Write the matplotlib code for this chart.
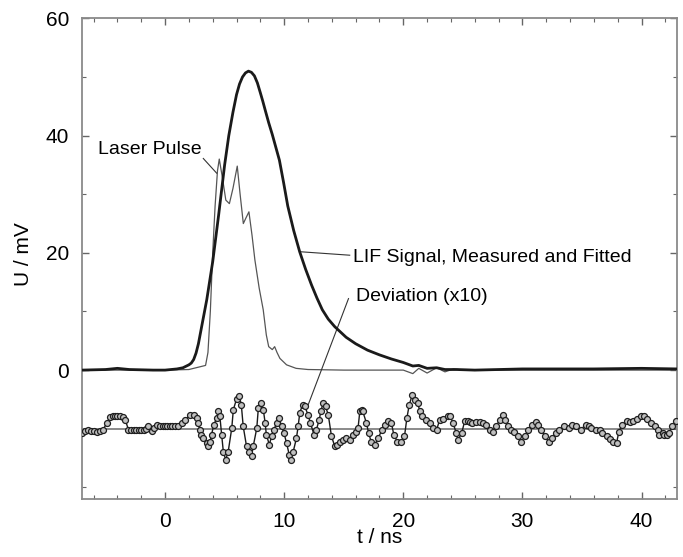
#!/usr/bin/env python3
"""LIF signal, laser pulse and fit deviation versus time."""

import matplotlib

matplotlib.use("Agg")
import matplotlib.pyplot as plt
from matplotlib.ticker import FixedLocator

plt.rcParams["font.family"] = ["Liberation Sans", "DejaVu Sans"]

# LIF signal (measured and fitted overlap), t in ns, U in mV
lif_t = [-7.0, -5.0, -4.0, -3.0, -1.0, 0.0, 1.0, 1.5, 2.0, 2.2, 2.4, 2.6,
         2.8, 3.07, 3.5, 4.0, 4.5, 5.0, 5.35, 5.7, 6.0, 6.25, 6.5, 6.75, 7.0,
         7.25, 7.5, 7.75, 8.0, 8.2, 8.4, 8.7, 9.0, 9.3, 9.6, 9.95, 10.3, 10.8,
         11.3, 11.8, 12.3, 12.75, 13.2, 13.7, 14.25, 15.2, 16.0, 17.0, 18.0,
         19.0, 20.0, 20.8, 21.3, 22.0, 22.8, 23.5, 24.5, 26.0, 28.0, 30.0,
         33.0, 36.0, 40.0, 43.0]
lif_u = [0.0, 0.1, 0.3, 0.1, 0.0, 0.0, 0.2, 0.4, 0.9, 1.2, 1.8, 2.9, 4.5,
         7.4, 12.0, 18.5, 26.5, 35.0, 40.0, 44.0, 47.0, 48.8, 50.0, 50.7,
         51.0, 50.8, 50.2, 49.0, 47.3, 45.9, 44.4, 42.2, 40.2, 38.0, 35.8,
         32.0, 28.0, 23.8, 20.2, 17.2, 14.5, 12.3, 10.3, 8.7, 7.4, 5.6, 4.5,
         3.4, 2.6, 1.9, 1.3, 0.7, 0.8, 0.3, 0.4, 0.1, 0.1, 0.0, 0.1, 0.2, 0.2,
         0.2, 0.3, 0.2]

# laser pulse
laser_t = [-7.0, -3.0, 0.0, 2.0, 3.4, 3.6, 3.8, 4.0, 4.2, 4.4, 4.55, 4.8,
           5.1, 5.4, 5.7, 6.06, 6.3, 6.57, 6.8, 7.04, 7.3, 7.54, 7.9, 8.24,
           8.5, 8.7, 9.0, 9.2, 9.4, 9.64, 10.2, 11.0, 12.0, 15.0, 20.0, 20.8,
           21.3, 22.0, 22.8, 23.5, 24.2, 25.0, 30.0, 43.0]
laser_u = [0.0, 0.0, 0.0, 0.1, 0.8, 3.0, 10.0, 20.0, 28.0, 34.0, 36.0,
           33.0, 29.0, 28.4, 31.0, 34.8, 30.0, 25.0, 26.0, 27.0, 23.0, 18.8,
           14.0, 10.3, 6.0, 4.0, 3.5, 4.0, 3.0, 2.0, 0.9, 0.3, 0.1, 0.0, 0.0,
           -0.6, 0.3, -0.5, 0.4, -0.3, 0.2, 0.0, 0.0, 0.0]

# deviation (x10), plotted with an offset of -10 mV
dev_t = [-7.0, -6.75, -6.5, -6.25, -6.0, -5.75, -5.5, -5.2, -4.9, -4.6,
         -4.4, -4.2, -4.0, -3.8, -3.5, -3.35, -3.07, -2.85, -2.6, -2.4, -2.2,
         -2.0, -1.8, -1.6, -1.4, -1.1, -0.9, -0.7, -0.4, -0.2, 0.0, 0.2, 0.4,
         0.6, 0.8, 1.1, 1.4, 1.7, 2.1, 2.4, 2.65, 2.8, 2.9, 3.05, 3.2, 3.5,
         3.64, 3.78, 3.9, 4.1, 4.33, 4.47, 4.6, 4.75, 4.89, 5.09, 5.3, 5.6,
         5.73, 6.0, 6.24, 6.4, 6.56, 6.84, 7.04, 7.26, 7.4, 7.7, 7.83, 8.02,
         8.25, 8.4, 8.5, 8.75, 8.95, 9.14, 9.36, 9.58, 9.78, 9.98, 10.2,
         10.42, 10.56, 10.76, 11.03, 11.17, 11.31, 11.54, 11.73, 12.0, 12.2,
         12.5, 12.7, 12.94, 13.08, 13.27, 13.47, 13.7, 13.97, 14.25, 14.45,
         14.72, 14.94, 15.2, 15.5, 15.8, 16.0, 16.2, 16.35, 16.5, 16.6, 16.9,
         17.1, 17.3, 17.6, 17.9, 18.2, 18.45, 18.7, 19.0, 19.2, 19.5, 19.8,
         20.1, 20.3, 20.5, 20.76, 20.95, 21.2, 21.4, 21.6, 21.9, 22.2, 22.5,
         22.8, 23.05, 23.35, 23.75, 23.95, 24.17, 24.45, 24.6, 24.9, 25.15,
         25.4, 25.6, 25.8, 26.1, 26.4, 26.7, 26.96, 27.3, 27.5, 27.8, 28.1,
         28.36, 28.55, 28.8, 29.0, 29.3, 29.6, 29.9, 30.2, 30.5, 30.8, 31.1,
         31.3, 31.6, 31.9, 32.2, 32.45, 32.8, 33.1, 33.5, 33.9, 34.2, 34.5,
         34.9, 35.3, 35.55, 35.8, 36.2, 36.5, 36.7, 37.1, 37.35, 37.6, 37.9,
         38.1, 38.4, 38.8, 39.0, 39.25, 39.65, 39.95, 40.2, 40.45, 40.8, 41.1,
         41.35, 41.5, 41.8, 41.9, 42.1, 42.3, 42.6, 42.9]
dev_u = [-10.74, -10.4, -10.28, -10.4, -10.34, -10.5, -10.46, -10.17, -9.03,
         -8.0, -7.8, -7.78, -7.8, -7.9, -8.0, -8.46, -10.17, -10.3, -10.3,
         -10.2, -10.2, -10.3, -10.3, -10.0, -9.5, -10.46, -9.8, -9.3, -9.6,
         -9.5, -9.6, -9.5, -9.5, -9.6, -9.6, -9.6, -9.03, -8.46, -7.6, -7.6,
         -8.2, -9.0, -10.2, -11.0, -11.6, -12.45, -13.0, -12.2, -11.0, -9.3,
         -8.2, -7.04, -7.9, -11.0, -13.9, -15.3, -13.9, -9.9, -6.76, -4.94,
         -4.48, -5.9, -9.6, -13.0, -13.9, -14.7, -13.0, -9.9, -6.5, -5.6,
         -6.76, -9.0, -11.0, -12.7, -11.3, -10.2, -9.0, -8.2, -9.6, -10.7,
         -12.45, -14.4, -15.3, -13.9, -11.6, -9.6, -7.3, -5.9, -6.2, -7.6,
         -9.0, -11.0, -10.2, -8.46, -7.04, -5.6, -6.2, -7.6, -11.3, -13.0,
         -12.7, -12.2, -11.9, -11.6, -11.9, -11.0, -10.5, -9.9, -7.04, -6.76,
         -7.04, -9.0, -10.8, -12.2, -12.7, -11.6, -10.2, -9.3, -8.75, -9.0,
         -11.0, -12.2, -12.2, -11.3, -8.2, -5.9, -4.2, -5.05, -5.6, -7.04,
         -7.9, -8.46, -9.0, -9.9, -10.2, -8.46, -8.35, -7.9, -7.9, -9.0,
         -10.74, -11.9, -10.74, -8.75, -8.75, -8.8, -9.0, -8.9, -8.9, -9.1,
         -9.3, -10.2, -10.5, -9.6, -8.46, -7.6, -8.46, -9.6, -10.2, -10.5,
         -11.3, -12.2, -11.3, -10.2, -9.3, -8.9, -9.3, -10.2, -11.3, -12.2,
         -11.6, -10.74, -10.2, -9.6, -9.9, -9.3, -9.6, -10.2, -9.3, -9.6,
         -9.9, -10.2, -10.2, -10.74, -11.3, -11.8, -12.2, -12.45, -10.5, -9.3,
         -8.75, -8.8, -8.75, -8.35, -7.9, -7.9, -8.35, -9.0, -9.6, -10.2,
         -11.0, -10.74, -11.0, -11.0, -10.74, -9.6, -8.75]

dev_zero = -10.0

fig = plt.figure(figsize=(6.83, 5.57), dpi=100)
ax = fig.add_axes([0.1196, 0.104, 0.872, 0.863])

ax.plot([-7, 43], [dev_zero, dev_zero], color="#8a8a8a", linewidth=1.4, zorder=1)
ax.plot(laser_t, laser_u, color="#555555", linewidth=0.9, zorder=2)
ax.plot(lif_t, lif_u, color="#1a1a1a", linewidth=2.0, zorder=3,
        solid_joinstyle="round")
ax.plot(dev_t, dev_u, color="#1a1a1a", linewidth=1.0, marker="o",
        markersize=4.3, markerfacecolor="#c0c0c0", markeredgecolor="#1e1e1e",
        markeredgewidth=0.9, zorder=4)

# labels with leader lines
ax.text(-5.6, 37.7, "Laser Pulse", fontsize=14, ha="left", va="center")
ax.plot([3.21, 4.33], [36.1, 33.6], color="#333333", linewidth=0.8)
ax.text(15.8, 19.2, "LIF Signal, Measured and Fitted", fontsize=14,
        ha="left", va="center")
ax.plot([11.3, 15.5], [20.2, 19.6], color="#333333", linewidth=0.8)
ax.text(16.0, 12.5, "Deviation (x10)", fontsize=14, ha="left", va="center")
ax.plot([15.4, 12.0], [12.2, -6.0], color="#333333", linewidth=0.8)

ax.set_xlim(-7, 43)
ax.set_ylim(-22, 60)
ax.xaxis.set_major_locator(FixedLocator([0, 10, 20, 30, 40]))
ax.xaxis.set_minor_locator(FixedLocator([-6, -4, -2, 2, 4, 6, 8, 12, 14, 16,
                                         18, 22, 24, 26, 28, 32, 34, 36, 38,
                                         42]))
ax.yaxis.set_major_locator(FixedLocator([0, 20, 40, 60]))
ax.yaxis.set_minor_locator(FixedLocator([-20, -10, 10, 30, 50]))

for side in ax.spines.values():
    side.set_color("#8a8a8a")
    side.set_linewidth(1.3)
ax.tick_params(which="both", direction="in", top=True, right=True,
               color="#666666", labelsize=15, pad=9)
ax.tick_params(which="major", length=5, width=1.0)
ax.tick_params(which="minor", length=3, width=0.8)

ax.set_xlabel("t / ns", fontsize=15, labelpad=-2)
ax.set_ylabel("U / mV", fontsize=15)
ax.yaxis.set_label_coords(-0.082, 0.51)

fig.savefig("out.png", dpi=100)
